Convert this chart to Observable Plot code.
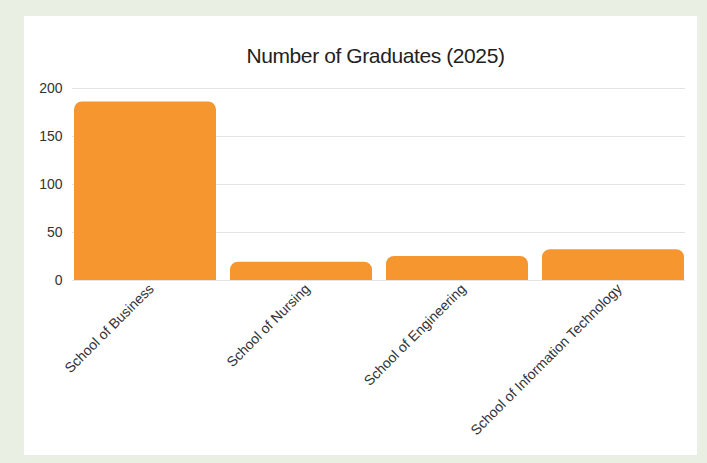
<!DOCTYPE html>
<html>
<head>
<meta charset="utf-8">
<script src="https://cdn.jsdelivr.net/npm/d3@7"></script>
<script src="https://cdn.jsdelivr.net/npm/@observablehq/plot@0.6"></script>
<style>
  html, body { margin: 0; padding: 0; background: #e9f0e3; width: 707px; height: 463px; overflow: hidden; }
  #card { position: absolute; left: 24px; top: 16px; width: 673px; height: 439px; background: #ffffff; }
  #title { position: absolute; left: 0; top: 28px; width: 100%; text-align: center; padding-left: 30px; box-sizing: border-box;
           font-family: "Liberation Sans", Arial, sans-serif; font-size: 21px; color: #222; letter-spacing: -0.4px; }
  #chart { position: absolute; left: 0; top: 62px; }
</style>
</head>
<body>
<div id="card">
  <div id="title">Number of Graduates (2025)</div>
  <div id="chart"></div>
</div>
<script>
const schools = ["School of Business", "School of Nursing", "School of Engineering", "School of Information Technology"];
const graduates = [186, 19, 25, 32];
const yTicks = [0, 50, 100, 150, 200];

const data = schools.map((s, i) => ({school: s, value: graduates[i]}));

const chart = Plot.plot({
  width: 673,
  height: 376,
  marginLeft: 48,
  marginRight: 12,
  marginTop: 10,
  marginBottom: 174,
  style: {fontFamily: "'Liberation Sans', Arial, sans-serif", fontSize: "14px", color: "#333", background: "transparent"},
  x: {domain: schools, paddingInner: 0.09, paddingOuter: 0, label: null},
  y: {domain: [0, 200], ticks: yTicks, label: null},
  marks: [
    Plot.gridY(yTicks, {stroke: "#e4e4e4", strokeOpacity: 1}),
    Plot.barY(data, {x: "school", y: "value", fill: "#f5962f", ry1: 8, rx: 8}),
    Plot.axisY({ticks: yTicks, tickSize: 0, tickPadding: 10, fill: "#333", textAnchor: "end", letterSpacing: "-0.5px"}),
    Plot.axisX({tickSize: 0, tickRotate: -45, tickPadding: 6, fill: "#333", dx: 6, letterSpacing: "-0.6px"})
  ]
});
document.getElementById("chart").appendChild(chart);
</script>
</body>
</html>
